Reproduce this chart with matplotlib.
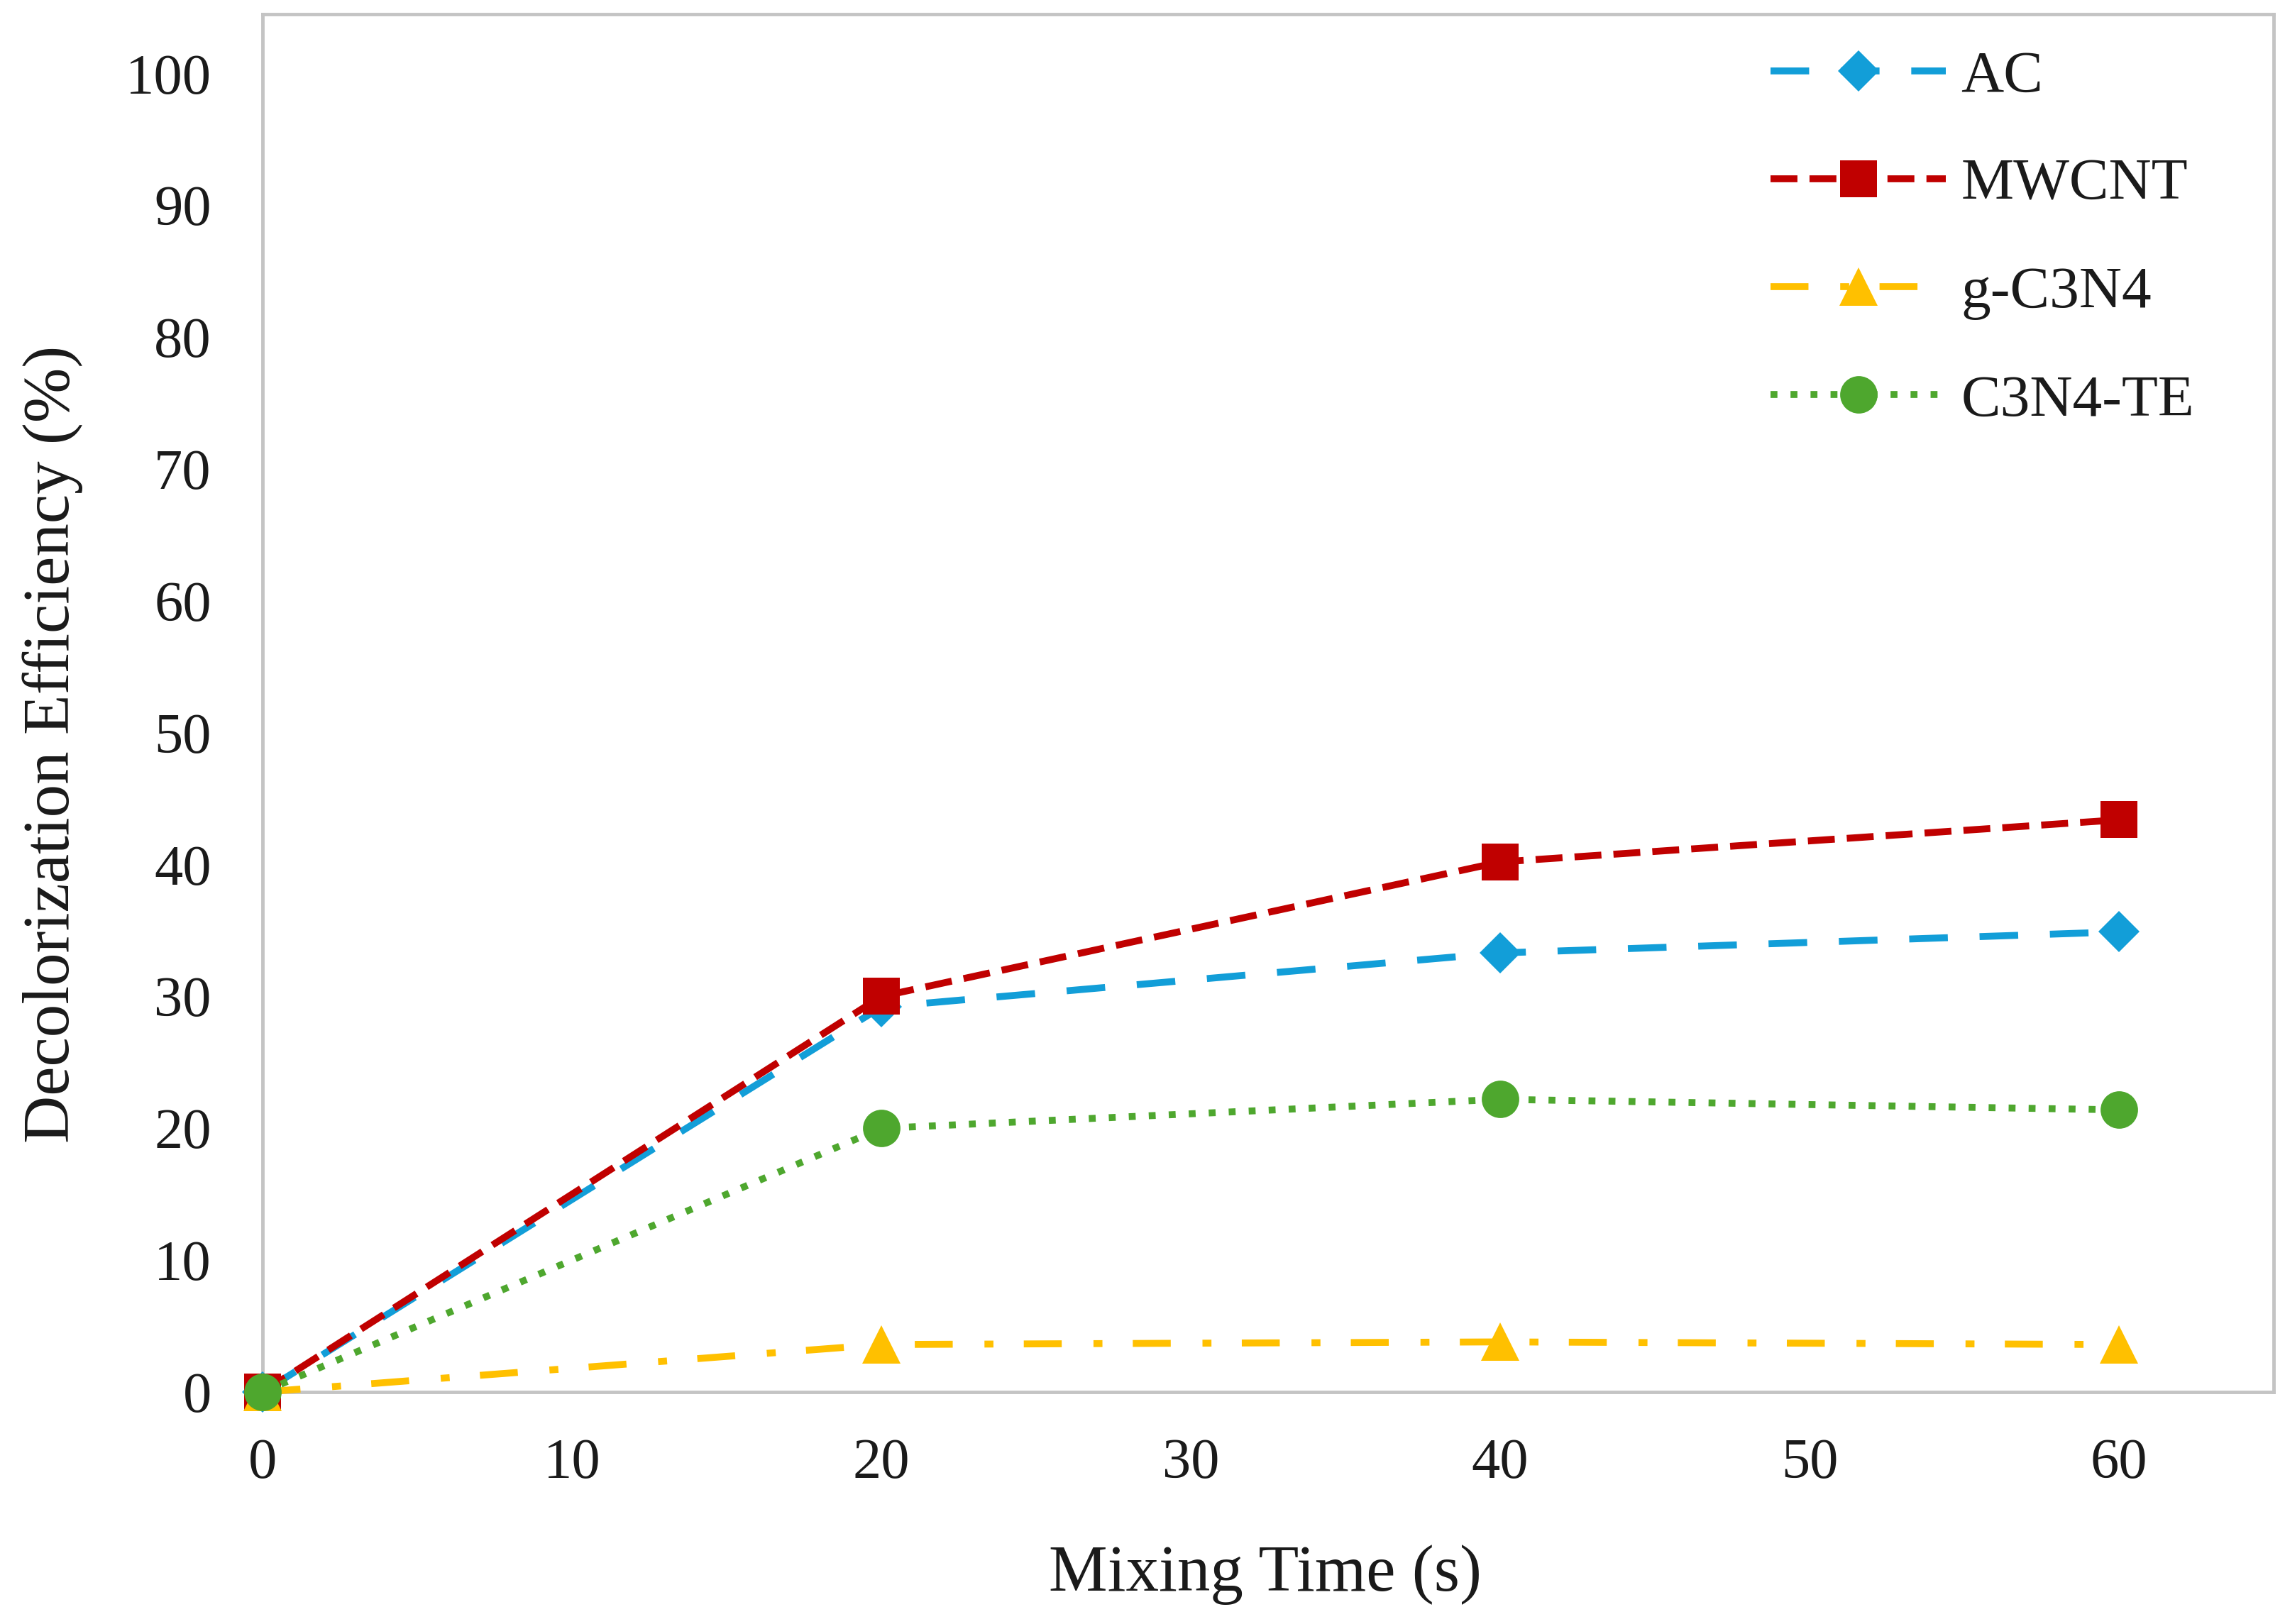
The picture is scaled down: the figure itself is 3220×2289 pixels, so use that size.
import matplotlib
matplotlib.use("Agg")
import matplotlib.pyplot as plt

# ---- data ----
mixing_time = [0, 20, 40, 60]
ac = [0, 29.2, 33.3, 34.9]
mwcnt = [0, 30.0, 40.2, 43.4]
g_c3n4 = [0, 3.6, 3.8, 3.6]
c3n4_te = [0, 20.0, 22.2, 21.4]
series_names = ["AC", "MWCNT", "g-C3N4", "C3N4-TE"]
x_ticks = [0, 10, 20, 30, 40, 50, 60]
y_ticks = [0, 10, 20, 30, 40, 50, 60, 70, 80, 90, 100]

plt.rcParams['font.family'] = ['Liberation Serif', 'DejaVu Serif']

W, H = 3220, 2289
fig = plt.figure(figsize=(W / 100, H / 100), dpi=100)
ax = fig.add_axes([370 / W, (H - 1962) / H, (3204 - 370) / W, (1962 - 20) / H])

lw = 7
styles = [
    dict(color='#129ed8', marker='D', ms=30, dashes=(5.6, 4.6)),
    dict(color='#c00000', marker='s', ms=37, dashes=(3.9, 1.75)),
    dict(color='#ffc000', marker='^', ms=39, dashes=(5.5, 4.6, 1.3, 4.4)),
    dict(color='#4ea72e', marker='o', ms=38, dashes=(1.0, 1.9)),
]
data = [ac, mwcnt, g_c3n4, c3n4_te]
for name, ys, st in zip(series_names, data, styles):
    ax.plot(mixing_time, ys, color=st['color'], lw=lw, dashes=st['dashes'],
            dash_capstyle='butt', marker=st['marker'], ms=st['ms'],
            markeredgewidth=0, markerfacecolor=st['color'],
            clip_on=False, label=name, zorder=3)

ax.set_xlim(0, 65)
ax.set_ylim(0, 104.5)
ax.set_xticks(x_ticks)
ax.set_yticks(y_ticks)
ax.tick_params(axis='both', length=0, labelsize=58, colors='#1a1a1a')
ax.tick_params(axis='x', pad=47)
ax.tick_params(axis='y', pad=52)

for sp in ax.spines.values():
    sp.set_color('#c4c4c4')
    sp.set_linewidth(3.5)

ax.set_xlabel("Mixing Time (s)", fontsize=67, color='#1a1a1a')
ax.xaxis.set_label_coords(0.4985, (1962 - 2220) / 1942)
ax.xaxis.label.set_verticalalignment('center')
ax.set_ylabel("Decolorization Efficiency (%)", fontsize=67, color='#1a1a1a')
ax.yaxis.set_label_coords((74 - 370) / 2834, (1962 - 1049) / 1942)
ax.yaxis.label.set_verticalalignment('center')

leg = ax.legend(loc='upper left', bbox_to_anchor=(0.7498, 0.974), frameon=False,
                fontsize=60, handlelength=2.97, handletextpad=0.25,
                labelspacing=0.91, borderpad=0, borderaxespad=0, numpoints=1)
for t in leg.get_texts():
    t.set_color('#1a1a1a')

fig.savefig("out.png", dpi=100)
